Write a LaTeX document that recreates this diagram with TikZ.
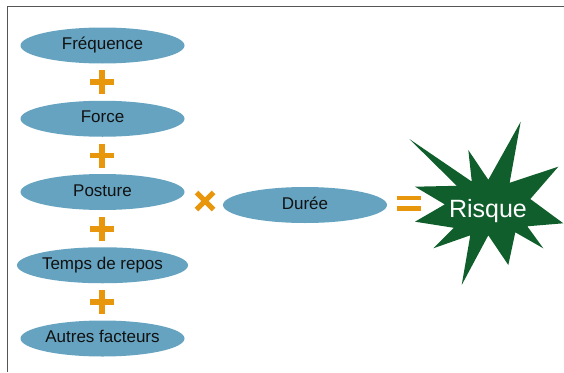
\documentclass[tikz,border=0pt]{standalone}
\usepackage{fontspec}
\setmainfont{Liberation Sans}
\usetikzlibrary{shapes.geometric}
\definecolor{ellblue}{HTML}{65A3C0}
\definecolor{signorange}{HTML}{E8960C}
\definecolor{stargreen}{HTML}{0F5E2B}
\definecolor{framegray}{HTML}{555555}
\definecolor{textblack}{HTML}{111111}
\begin{document}
\begin{tikzpicture}[x=1pt,y=-1pt,
  factor/.style={ellipse, fill=ellblue, minimum width=164pt, minimum height=36pt,
    inner sep=0pt, text=textblack, text height=11.8pt, text depth=3.5pt,
    font=\fontsize{17}{19}\selectfont},
  signline/.style={signorange, line width=5.5pt},
  framelines/.style={framegray, line width=1.2pt},
]
\useasboundingbox (0,0) rectangle (564,372);
% frame (top and left)
\draw[framelines] (7.5,372) -- (7.5,6.5) -- (564,6.5);

% factor ellipses
\node[factor] (freq)   at (102.5,45.5)  {Fréquence};
\node[factor] (force)  at (102.5,118.75){Force};
\node[factor] (post)   at (102.5,192)   {Posture};
\node[factor] (repos)  at (102.5,265.25){Temps de repos};
\node[factor] (autres) at (102.5,338.5) {Autres facteurs};
\node[factor] (duree)  at (305,205)     {Durée};

% plus signs
\foreach \n/\y in {p1/82, p2/155.5, p3/229, p4/302} {
  \coordinate (\n) at (102,\y);
  \draw[signline] (\n) ++(-12,0) -- ++(24,0);
  \draw[signline] (\n) ++(0,-12) -- ++(0,24);
}

% times sign
\coordinate (times) at (205,201);
\draw[signline, line width=5pt] (times) ++(-8.5,-8.5) -- ++(17,17);
\draw[signline, line width=5pt] (times) ++(-8.5,8.5) -- ++(17,-17);

% equals sign
\coordinate (eq) at (409,203.3);
\draw[signline, line width=4.6pt] (eq) ++(-12,-5.2) -- ++(24,0);
\draw[signline, line width=4.6pt] (eq) ++(-12,5.2) -- ++(24,0);

% star burst
\fill[stargreen] (520.7,121.7) -- (509.6,182.8) -- (558.3,166.7) -- (530.3,199)
  -- (563.3,223.3) -- (527.3,226.3) -- (543.3,248.3) -- (515.3,232.3)
  -- (508.3,265) -- (488.3,235.3) -- (461.7,285) -- (470.3,235.3)
  -- (433.3,248.3) -- (453.8,227.8) -- (415,221.7) -- (444.8,204.4)
  -- (415,186.7) -- (456.8,185.8) -- (409.3,139) -- (471.8,181.6)
  -- (468.3,150) -- (488.3,179.8) -- cycle;
\node[anchor=base, text=white, inner sep=0pt, font=\fontsize{25}{28}\selectfont]
  (risque) at (488,217) {Risque};
\end{tikzpicture}
\end{document}
